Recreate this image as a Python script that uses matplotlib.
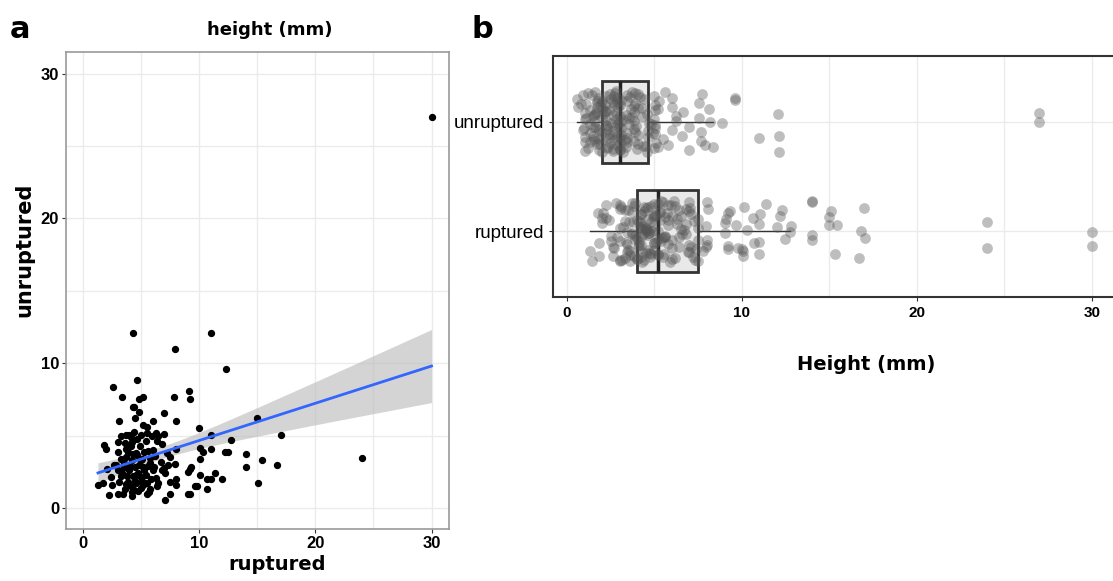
import numpy as np
import matplotlib.pyplot as plt

# paired aneurysm heights (mm): x = ruptured, y = unruptured
ruptured = [4.3, 11.0, 7.95, 12.3, 4.7, 2.6, 9.1, 3.35, 5.2, 4.85, 7.8, 9.2, 4.3, 4.4,
            4.8, 7.0, 3.1, 4.5, 5.2, 6.0, 8.0, 5.5, 15.0, 10.0, 4.4, 3.7, 3.3, 4.0,
            5.0, 5.95, 6.5, 7.0, 11.05, 17.05, 3.0, 4.2, 6.4, 6.8, 12.75, 1.8, 2.0, 3.05,
            3.7, 4.15, 4.6, 5.3, 5.6, 6.0, 7.25, 8.0, 10.1, 10.3, 11.0, 12.2, 12.45, 14.0,
            15.45, 24.0, 3.3, 3.7, 4.2, 4.65, 5.1, 5.75, 7.5, 10.05, 2.05, 2.85, 3.05, 3.55,
            4.05, 4.5, 4.85, 5.2, 5.6, 6.0, 7.0, 7.95, 9.2, 9.3, 14.0, 16.7, 2.4, 3.4,
            3.8, 4.35, 4.75, 5.0, 5.45, 5.9, 6.3, 7.1, 8.05, 9.05, 10.05, 10.65, 11.0, 11.35,
            12.0, 1.3, 1.75, 2.5, 3.15, 3.75, 4.1, 4.6, 5.2, 5.55, 6.5, 7.5, 8.0, 9.65,
            9.8, 15.1, 4.35, 4.75, 5.75, 10.7, 2.25, 3.0, 3.45, 4.25, 5.55, 7.5, 9.05, 9.2,
            7.05, 30.0, 3.6, 4.9, 5.4, 3.9, 4.3, 5.0, 5.3, 4.6, 4.0, 3.3, 5.8, 6.2,
            6.7, 4.5, 5.1, 3.9, 6.1, 6.8, 2.7, 3.5, 4.7, 5.5, 6.3, 4.1, 5.0, 4.2,
            3.6, 5.7, 6.4, 7.3]
unruptured = [12.1, 12.06, 11.0, 9.6, 8.85, 8.35, 8.1, 7.65, 7.7, 7.55, 7.65, 7.55, 6.95, 7.0,
              6.65, 6.55, 6.0, 6.25, 5.75, 6.0, 6.0, 5.6, 6.25, 5.5, 5.25, 5.05, 4.95, 5.05,
              5.05, 5.0, 5.0, 5.1, 5.05, 5.05, 4.55, 4.55, 4.65, 4.4, 4.7, 4.35, 4.05, 3.9,
              4.05, 4.3, 3.8, 3.9, 3.95, 4.0, 3.8, 4.05, 4.15, 3.85, 4.05, 3.85, 3.85, 3.7,
              3.35, 3.45, 3.4, 3.55, 3.35, 3.65, 3.4, 3.45, 3.55, 3.4, 2.7, 2.95, 2.65, 2.8,
              2.9, 2.85, 3.0, 2.85, 2.9, 2.6, 2.75, 3.05, 2.7, 2.85, 2.8, 3.0, 2.15, 2.4,
              2.2, 2.2, 2.45, 2.15, 2.3, 2.0, 2.05, 2.4, 2.0, 2.5, 2.3, 2.0, 2.0, 2.45,
              2.0, 1.6, 1.7, 1.6, 1.8, 1.65, 1.5, 1.75, 1.6, 1.7, 1.7, 1.8, 1.6, 1.55,
              1.55, 1.7, 1.3, 1.2, 1.3, 1.3, 0.9, 1.0, 1.0, 0.8, 0.95, 1.0, 1.0, 1.0,
              0.55, 27.0, 4.5, 4.3, 4.6, 3.9, 3.7, 3.3, 2.6, 2.3, 2.6, 2.2, 3.1, 3.6,
              3.2, 1.9, 1.9, 1.8, 2.8, 2.6, 3.0, 3.1, 4.8, 5.2, 5.2, 4.9, 1.4, 1.1,
              1.3, 1.1, 1.5, 3.0]

# unpaired cases that only appear in panel b
ruptured_extra = [24.0, 30.0, 17.0, 16.8, 15.3, 15.0, 14.0, 14.0, 12.8, 7.4, 7.0, 6.6,
                  6.2, 5.3, 5.0, 4.8, 4.5, 4.3, 4.2, 4.0, 1.4, 2.0, 2.6, 3.0, 3.4, 3.8,
                  2.2, 2.5, 2.8, 3.2, 3.5, 3.7, 3.9, 4.0, 4.1, 4.2, 4.4, 4.6, 4.8, 5.0,
                  5.2, 5.4, 5.8, 6.0, 6.4, 6.8, 7.2, 7.5, 1.8, 3.0, 4.5, 6.9, 7.1, 5.6, 3.6]
unruptured_extra = [27.0, 12.1, 9.6, 8.2, 7.9, 0.6, 0.9, 1.2, 1.5, 1.8, 2.0, 2.2, 2.3,
                    2.4, 2.6, 2.7, 2.8, 3.0, 3.0, 3.1, 3.2, 1.6, 2.1, 2.5, 2.9]
groups = ['ruptured', 'unruptured']

x = np.array(ruptured)
y = np.array(unruptured)

fig = plt.figure(figsize=(11.13, 5.81), dpi=100)
grid_col = '#ebebeb'
tick_font = ['Liberation Sans', 'DejaVu Sans']

# ---- panel a: scatter + lm fit with 95% CI
ax = fig.add_axes([0.0593, 0.0895, 0.3441, 0.821])
slope, icpt = np.polyfit(x, y, 1)
n = len(x)
resid = y - (slope * x + icpt)
s = np.sqrt(np.sum(resid ** 2) / (n - 2))
sxx = np.sum((x - x.mean()) ** 2)
xs = np.linspace(x.min(), x.max(), 100)
fit = slope * xs + icpt
se = s * np.sqrt(1 / n + (xs - x.mean()) ** 2 / sxx)
ax.fill_between(xs, fit - 1.97 * se, fit + 1.97 * se, color='#bdbdbd', alpha=0.65, lw=0, zorder=2)
ax.scatter(x, y, s=18, color='black', zorder=3)
ax.plot(xs, fit, color='#3366ff', lw=2, zorder=4)
ax.set_xlim(-1.45, 31.5)
ax.set_ylim(-1.45, 31.5)
ax.set_xticks([0, 10, 20, 30])
ax.set_yticks([0, 10, 20, 30])
ax.set_xticks([5, 15, 25], minor=True)
ax.set_yticks([5, 15, 25], minor=True)
ax.grid(True, which='both', color=grid_col, lw=1, zorder=0)
ax.tick_params(which='minor', length=0)
ax.tick_params(length=3, color='#333333', labelsize=12, pad=2)
for lab in ax.get_xticklabels() + ax.get_yticklabels():
    lab.set_family(tick_font)
    lab.set_fontweight('bold')
for sp in ax.spines.values():
    sp.set_color('#999999')
    sp.set_linewidth(1.2)
ax.set_xlabel('ruptured', fontsize=14, fontweight='bold')
ax.xaxis.set_label_coords(0.551, -0.055)
ax.set_ylabel('unruptured', fontsize=15, fontweight='bold')
ax.yaxis.set_label_coords(-0.082, 0.585)
ax.set_title('height (mm)', fontsize=13, fontweight='bold', pad=12, x=0.533)

# ---- panel b: boxplot + jittered points
bx = fig.add_axes([0.4969, 0.4888, 0.5076, 0.4148])
data_b = [np.array(ruptured + ruptured_extra), np.array(unruptured + unruptured_extra)]
bp = bx.boxplot(data_b, positions=[0, 1], vert=False, widths=0.75, patch_artist=True,
                showfliers=False, zorder=2)
for b in bp['boxes']:
    b.set_facecolor('#e9e9e9')
    b.set_edgecolor('#333333')
    b.set_linewidth(2)
for m in bp['medians']:
    m.set_color('#222222')
    m.set_linewidth(2.5)
for w in bp['whiskers']:
    w.set_color('#333333')
    w.set_linewidth(1)
for c in bp['caps']:
    c.set_visible(False)
for i, vals in enumerate(data_b):
    off = ((np.arange(len(vals)) * 0.6180339887) % 1 - 0.5) * 0.56
    bx.scatter(vals, i + off, s=60, color='#555555', alpha=0.38, lw=0, zorder=3)
bx.set_xlim(-0.8, 31.5)
bx.set_ylim(-0.6, 1.6)
bx.set_xticks([0, 10, 20, 30])
bx.set_xticks([5, 15, 25], minor=True)
bx.set_yticks([0, 1])
bx.set_yticklabels(groups)
bx.grid(True, which='both', color=grid_col, lw=1, zorder=0)
bx.tick_params(which='minor', length=0)
bx.tick_params(axis='x', length=3, color='#333333', labelsize=11)
bx.tick_params(axis='y', length=3, color='#333333', labelsize=13.5)
for lab in bx.get_xticklabels() + bx.get_yticklabels():
    lab.set_family(tick_font)
for lab in bx.get_xticklabels():
    lab.set_fontweight('bold')
for sp in bx.spines.values():
    sp.set_color('#333333')
    sp.set_linewidth(1.5)
bx.set_xlabel('Height (mm)', fontsize=14, fontweight='bold')
bx.xaxis.set_label_coords(0.554, -0.24)

fig.text(0.009, 0.935, 'a', fontsize=22, fontweight='bold')
fig.text(0.424, 0.935, 'b', fontsize=22, fontweight='bold')

fig.savefig('out.png', dpi=100)
